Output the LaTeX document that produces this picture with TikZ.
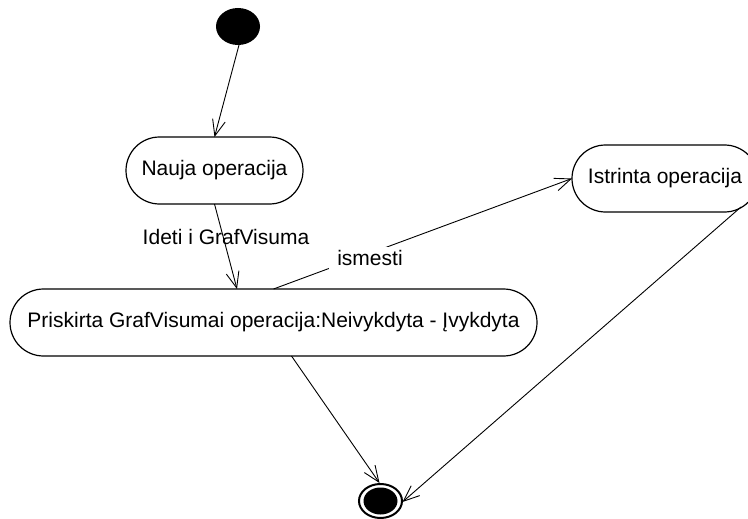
\documentclass[tikz,border=0pt]{standalone}
\usepackage{fontspec}
\setmainfont{Liberation Sans}
\usetikzlibrary{arrows.meta,shapes.misc}
\tikzset{
  state/.style={draw=black, line width=1.2pt, rounded rectangle, minimum height=67pt, inner sep=0pt, font=\fontsize{21}{25}\selectfont},
  lbl/.style={inner sep=0pt, font=\fontsize{21}{25}\selectfont},
  conn/.style={line width=0.9pt, -{Straight Barb[length=16pt,width=13pt,line width=0.9pt]}},
}
\begin{document}
\begin{tikzpicture}[x=1pt,y=-1pt]
\useasboundingbox (0,0) rectangle (748,519);
\fill[black] (238,26.5) ellipse [x radius=22pt, y radius=18.5pt];
\node[inner sep=0pt, minimum size=0pt] (start) at (238,26.5) {};
\node[state, minimum width=177pt] (nauja) at (214.5,170.5) {Nauja operacija};
\node[state, minimum width=527pt] (prisk) at (273.5,322.5) {Priskirta GrafVisumai operacija:Neivykdyta - Įvykdyta};
\node[state, minimum width=186pt] (ist) at (665,178.5) {Istrinta operacija};
\draw[line width=2pt] (380.5,501) ellipse [x radius=21.5pt, y radius=17pt];
\fill[black] (380.5,501) ellipse [x radius=17pt, y radius=13.5pt];
\node[inner sep=0pt, minimum size=0pt] (end) at (380.5,501) {};
\draw[conn] ([shift={(1,18.5)}]start.center) -- ([shift={(0,-33.5)}]nauja.center);
\draw[conn] ([shift={(0,33.5)}]nauja.center) -- ([shift={(-36.5,-33.5)}]prisk.center);
\draw[conn] ([shift={(0,-33.5)}]prisk.center) -- ([shift={(-93,0)}]ist.center);
\draw[conn] ([shift={(18,33.5)}]prisk.center) -- ([shift={(-1,-18)}]end.center);
\draw[conn] ([shift={(76,28.5)}]ist.center) -- ([shift={(22,1)}]end.center);
\node[lbl] (l1) at (226,237) {Ideti i GrafVisuma};
\node[lbl, fill=white, inner xsep=8pt, inner ysep=3pt] (l2) at (370,258) {ismesti};
\end{tikzpicture}
\end{document}
